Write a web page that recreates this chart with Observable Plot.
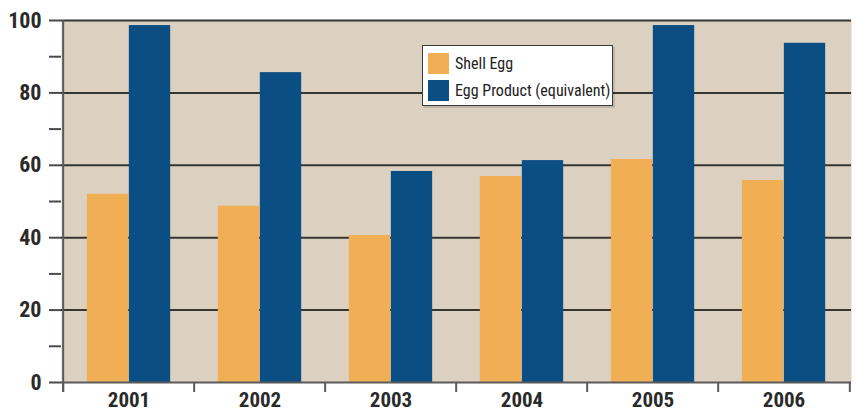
<!DOCTYPE html>
<html>
<head>
<meta charset="utf-8">
<script src="https://cdn.jsdelivr.net/npm/d3@7"></script>
<script src="https://cdn.jsdelivr.net/npm/@observablehq/plot@0.6"></script>
<style>
  body { margin: 0; background: #fff; }
  #wrap { position: relative; width: 856px; height: 411px; }
  .font { font-family: "Liberation Sans Narrow", "Roboto Condensed", "DejaVu Sans Condensed", "Arial Narrow", sans-serif; }
  .legend { position: absolute; left: 422px; top: 45px; width: 189px; height: 59px; background: #fff;
            border: 1.5px solid #3a3a3a; box-shadow: 2px 2px 0 rgba(0,0,0,0.12); }
  .legend .item { position: absolute; left: 5px; height: 21px; display: flex; align-items: center;
                  font-size: 16px; font-weight: normal; color: #222; white-space: nowrap; }
  .legend .sw { width: 21px; height: 21px; margin-right: 6px; flex: none; }
</style>
</head>
<body>
<div id="wrap"></div>
<script>
const years = ["2001", "2002", "2003", "2004", "2005", "2006"];
const shellEgg = [52.0, 48.7, 40.6, 56.9, 61.6, 55.8];
const eggProduct = [98.6, 85.6, 58.3, 61.3, 98.6, 93.7];
const seriesNames = ["Shell Egg", "Egg Product (equivalent)"];
const seriesColors = ["#F0AE55", "#0A4E84"];
const majorTicks = [0, 20, 40, 60, 80, 100];
const gridTicks = [20, 40, 60, 80, 100];
const minorTicks = [10, 30, 50, 70, 90];

const W = 856, H = 411, ml = 61, mr = 5, mt = 20, mb = 29;
const band = (W - ml - mr) / years.length;
const barW = 42;
const padL = (band - 2 * barW) / 2;
const below = 10 / ((H - mt - mb) / 100); // 10px expressed in y units
const bg = "#DCD1C1";
const font = '"Liberation Sans Narrow", "Roboto Condensed", "DejaVu Sans Condensed", "Arial Narrow", sans-serif';

const shellData = years.map((y, i) => ({year: y, value: shellEgg[i]}));
const productData = years.map((y, i) => ({year: y, value: eggProduct[i]}));

const chart = Plot.plot({
  width: W, height: H,
  marginLeft: ml, marginRight: mr, marginTop: mt, marginBottom: mb,
  style: {fontFamily: font, fontSize: "21px", fontWeight: "bold", color: "#2a2a2a", background: "#fff", overflow: "visible"},
  x: {type: "band", domain: years, padding: 0, label: null},
  y: {domain: [0, 100], label: null},
  marks: [
    Plot.frame({fill: bg, stroke: null}),
    Plot.ruleY(gridTicks, {stroke: "#363530", strokeWidth: 2}),
    Plot.barY(shellData, {x: "year", y: "value", fill: seriesColors[0], insetLeft: padL, insetRight: band - padL - barW}),
    Plot.barY(productData, {x: "year", y: "value", fill: seriesColors[1], insetLeft: padL + barW, insetRight: padL}),
    Plot.ruleY([0], {stroke: "#5a5a5a", strokeWidth: 2}),
    Plot.ruleX(years, {x: d => d, dx: -band / 2, y1: -below, y2: 0, stroke: "#5a5a5a", strokeWidth: 2}),
    Plot.ruleX([years[years.length - 1]], {x: d => d, dx: band / 2, y1: -below, y2: 0, stroke: "#5a5a5a", strokeWidth: 2}),
    Plot.ruleX([years[0]], {x: d => d, dx: -band / 2, y1: -below, y2: 100, stroke: "#5a5a5a", strokeWidth: 2}),
    Plot.axisY({ticks: majorTicks, tickSize: 12, tickPadding: 8, stroke: "#4a4a4a", strokeWidth: 2, fontSize: 22, label: null}),
    Plot.axisY({ticks: minorTicks, tickSize: 12, tickFormat: () => "", stroke: "#4a4a4a", strokeWidth: 2, label: null}),
    Plot.axisX({tickSize: 0, tickPadding: 10, label: null})
  ]
});

const wrap = document.getElementById("wrap");
wrap.appendChild(chart);

const legend = document.createElement("div");
legend.className = "legend font";
seriesNames.forEach((name, i) => {
  const item = document.createElement("div");
  item.className = "item";
  item.style.top = (7 + i * 27) + "px";
  const sw = document.createElement("span");
  sw.className = "sw";
  sw.style.background = seriesColors[i];
  const t = document.createElement("span");
  t.textContent = name;
  item.appendChild(sw);
  item.appendChild(t);
  legend.appendChild(item);
});
wrap.appendChild(legend);
</script>
</body>
</html>
